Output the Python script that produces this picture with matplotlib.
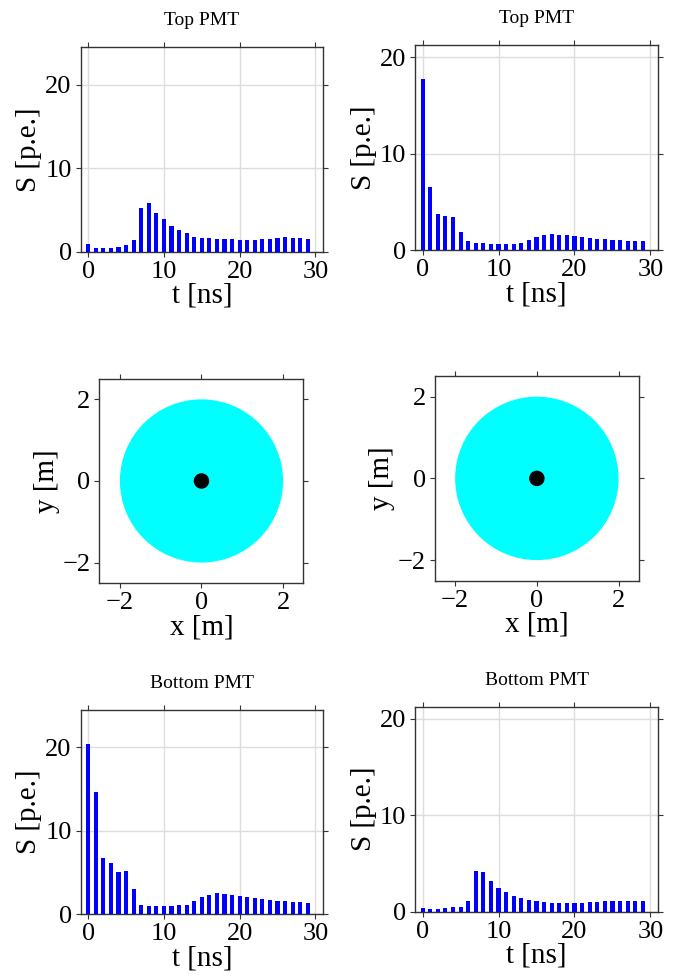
import matplotlib
matplotlib.use("Agg")
import matplotlib.pyplot as plt
from matplotlib.patches import Circle

plt.rcParams['font.family'] = 'serif'
plt.rcParams['font.serif'] = ['Liberation Serif', 'DejaVu Serif']
plt.rcParams['mathtext.fontset'] = 'stix'

# Time bins (ns)
t_bins = list(range(30))

# Signals per bin (p.e.)
top_left = [1.0, 0.52, 0.52, 0.52, 0.64, 0.88, 1.48, 5.3, 5.8, 4.6,
            3.9, 3.16, 2.68, 2.32, 1.84, 1.72, 1.72, 1.6, 1.6, 1.6,
            1.48, 1.48, 1.48, 1.6, 1.6, 1.72, 1.84, 1.72, 1.72, 1.6]
top_right = [17.7, 6.57, 3.77, 3.56, 3.46, 1.9, 0.97, 0.76, 0.76, 0.66,
             0.66, 0.66, 0.66, 0.76, 1.07, 1.38, 1.59, 1.7, 1.59, 1.59,
             1.49, 1.38, 1.28, 1.18, 1.18, 1.07, 1.07, 0.97, 0.97, 0.97]
bottom_left = [20.4, 14.7, 6.8, 6.2, 5.1, 5.2, 3.05, 1.12, 1.0, 1.0,
               1.0, 1.0, 1.12, 1.12, 1.6, 2.09, 2.33, 2.57, 2.45, 2.33,
               2.21, 2.09, 1.97, 1.85, 1.73, 1.6, 1.6, 1.49, 1.49, 1.37]
bottom_right = [0.38, 0.28, 0.28, 0.38, 0.48, 0.48, 1.1, 4.22, 4.12, 3.18,
                2.46, 2.04, 1.63, 1.42, 1.21, 1.1, 1.0, 0.9, 0.9, 0.9,
                0.9, 0.9, 1.0, 1.0, 1.1, 1.1, 1.1, 1.1, 1.1, 1.1]

# Detector geometry (m)
detector_radius = 2.0
source_xy = [(0.0, 0.0), (0.0, 0.0)]
source_radius = 0.19


def style_axes(ax):
    ax.tick_params(direction='out', length=3.5, top=True, right=True,
                   labelsize=19, color='#333333', pad=3)
    for s in ax.spines.values():
        s.set_color('#333333')
        s.set_linewidth(1.0)


def pmt_hist(ax, values, ymax, title):
    ax.bar(t_bins, values, width=0.55, color='blue', zorder=3)
    ax.set_xlim(-1, 31)
    ax.set_ylim(0, ymax)
    ax.set_xticks([0, 10, 20, 30])
    ax.set_yticks([0, 10, 20])
    ax.grid(color='#dddddd', linewidth=1.0, zorder=0)
    ax.set_xlabel('t [ns]', fontsize=21, labelpad=0)
    ax.set_ylabel('S [p.e.]', fontsize=21, labelpad=2)
    ax.set_title(title, fontsize=14, pad=16)
    style_axes(ax)


def event_view(ax, xy):
    ax.add_patch(Circle((0, 0), detector_radius, color='cyan', lw=0))
    ax.add_patch(Circle(xy, source_radius, color='black', lw=0))
    ax.set_xlim(-2.5, 2.5)
    ax.set_ylim(-2.5, 2.5)
    ax.set_aspect('equal')
    ax.set_xticks([-2, 0, 2])
    ax.set_yticks([-2, 0, 2])
    ax.set_xlabel('x [m]', fontsize=21, labelpad=0)
    ax.set_ylabel('y [m]', fontsize=21, labelpad=2)
    style_axes(ax)


fig = plt.figure(figsize=(6.86, 9.77), dpi=100)

ymax_left = 1.2 * max(max(top_left), max(bottom_left))
ymax_right = 1.2 * max(max(top_right), max(bottom_right))

ax1 = fig.add_axes([0.1176, 0.7421, 0.3532, 0.2098])
pmt_hist(ax1, top_left, ymax_left, 'Top PMT')
ax2 = fig.add_axes([0.605, 0.7441, 0.3542, 0.2098])
pmt_hist(ax2, top_right, ymax_right, 'Top PMT')

ax3 = fig.add_axes([0.1443, 0.4033, 0.2988, 0.2088])
event_view(ax3, source_xy[0])
ax4 = fig.add_axes([0.6337, 0.4056, 0.2978, 0.2095])
event_view(ax4, source_xy[1])

ax5 = fig.add_axes([0.1176, 0.0642, 0.3532, 0.2091])
pmt_hist(ax5, bottom_left, ymax_left, 'Bottom PMT')
ax6 = fig.add_axes([0.605, 0.0668, 0.3542, 0.2098])
pmt_hist(ax6, bottom_right, ymax_right, 'Bottom PMT')

fig.savefig('out.png', dpi=100)
